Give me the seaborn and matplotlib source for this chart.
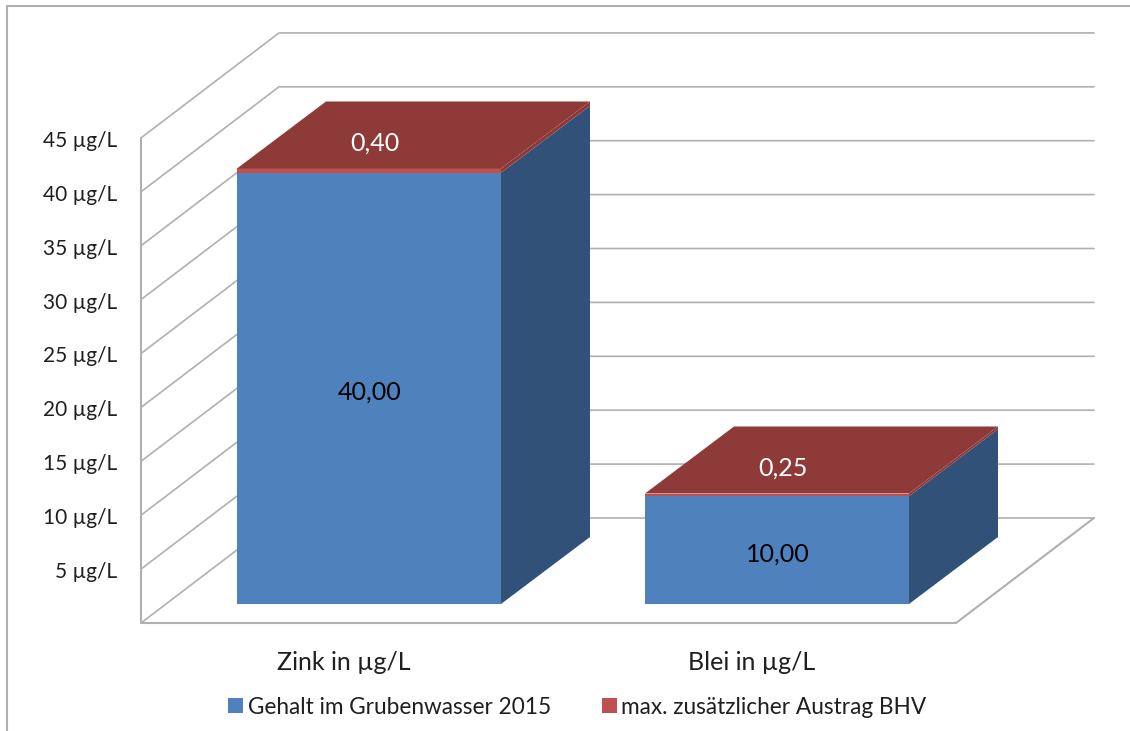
import matplotlib
matplotlib.use("Agg")
import matplotlib.pyplot as plt
from matplotlib.lines import Line2D
from matplotlib.patches import Polygon
import seaborn as sns

categories = ["Zink in µg/L", "Blei in µg/L"]
gehalt = [40.0, 10.0]
austrag = [0.40, 0.25]
y_ticks = [5, 10, 15, 20, 25, 30, 35, 40, 45]
gehalt_label = "Gehalt im Grubenwasser 2015"
austrag_label = "max. zusätzlicher Austrag BHV"

# pixel scale of the picture, everything in data units comes from these
W, H = 1130, 731
X0, SPACING = 369, 408
Y0, SCALE = 604, 10.78
def dx(px): return px / SPACING
def dy(px): return px / SCALE
BAR_W = 264 / SPACING
BAR_DX, BAR_DY = dx(89), dy(67)
WALL_DX, WALL_DY = dx(138), dy(105)
FLOOR_X0, FLOOR_X1 = -0.5 - dx(24), 1.5 - dx(25)
FLOOR_Y = -dy(19)

BLUE, BLUE_SIDE = "#4f81bd", "#325179"
RED, RED_TOP = "#c0504d", "#8e3a38"
GRID = "#b0b0b0"
TXT = "#1f1f1f"

sns.set_theme(style="white")
plt.rcParams["font.family"] = ["Lato", "DejaVu Sans"]

fig = plt.figure(figsize=(W / 100, H / 100), dpi=100)
ax = fig.add_axes([0, 0, 1, 1])

sns.barplot(x=categories, y=gehalt, color=BLUE, saturation=1, width=BAR_W,
            linewidth=0, label=gehalt_label, zorder=3, ax=ax)
sns.barplot(x=categories, y=austrag, bottom=gehalt, color=RED, saturation=1, width=BAR_W,
            linewidth=0, label=austrag_label, zorder=3, ax=ax)

ax.set_xlim(-X0 / SPACING, (W - X0) / SPACING)
ax.set_ylim((Y0 - H) / SCALE, Y0 / SCALE)
ax.set_axis_off()

# walls and floor
for t in [0] + y_ticks:
    y = FLOOR_Y + t
    ax.plot([FLOOR_X0, FLOOR_X0 + WALL_DX, FLOOR_X1 + WALL_DX],
            [y, y + WALL_DY, y + WALL_DY], color=GRID, lw=1.2, zorder=1)
ax.plot([FLOOR_X0, FLOOR_X0], [FLOOR_Y, FLOOR_Y + 45], color=GRID, lw=1.5, zorder=1)
ax.plot([FLOOR_X0, FLOOR_X1, FLOOR_X1 + WALL_DX],
        [FLOOR_Y, FLOOR_Y, FLOOR_Y + WALL_DY], color=GRID, lw=1.5, zorder=1)

# depth faces of the bars
for i in range(len(categories)):
    r = i + BAR_W / 2
    l = i - BAR_W / 2
    g = gehalt[i]
    top = g + austrag[i]
    ax.add_patch(Polygon([(r, 0), (r + BAR_DX, BAR_DY), (r + BAR_DX, g + BAR_DY), (r, g)],
                         fc=BLUE_SIDE, ec="none", zorder=3))
    ax.add_patch(Polygon([(r, g), (r + BAR_DX, g + BAR_DY), (r + BAR_DX, top + BAR_DY), (r, top)],
                         fc=RED_TOP, ec="none", zorder=3))
    ax.add_patch(Polygon([(l, top), (r, top), (r + BAR_DX, top + BAR_DY), (l + BAR_DX, top + BAR_DY)],
                         fc=RED_TOP, ec="none", zorder=3))
    ax.text(i + dx(1), g / 2 - 0.35, f"{g:.2f}".replace(".", ","), color="black",
            fontsize=18, ha="center", va="center", zorder=4)
    ax.text(i + dx(6), top + dy(25.5), f"{austrag[i]:.2f}".replace(".", ","), color="white",
            fontsize=18, ha="center", va="center", zorder=4)
    ax.text(i - dx(25), dy(-59), categories[i], color=TXT, fontsize=18,
            ha="center", va="center")

for t in y_ticks:
    ax.text(dx(117 - X0), FLOOR_Y + t - dy(3), f"{t} µg/L", color=TXT, fontsize=15,
            ha="right", va="center")

handles = [ax.containers[0], ax.containers[1]]
ax.legend(handles, [gehalt_label, austrag_label], loc="center",
          bbox_to_anchor=(577.5 / W, 1 - 707 / H), ncol=2, frameon=False, fontsize=16.3,
          handlelength=0.66, handleheight=0.66, handletextpad=0.2, columnspacing=2.25,
          labelcolor=TXT)

# picture frame on the left and at the top
fig.add_artist(Line2D([7 / W, 7 / W, 1], [0, 1 - 6 / H, 1 - 6 / H], color="#b0b0b0", lw=1.5))

fig.savefig("out.png", dpi=100)
